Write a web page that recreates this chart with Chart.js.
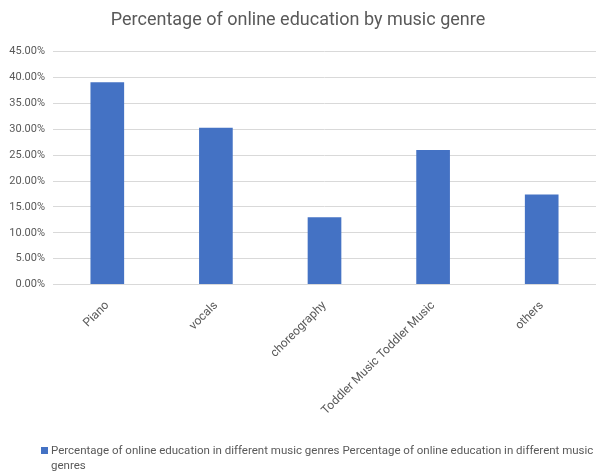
<!DOCTYPE html>
<html>
<head>
<meta charset="utf-8">
<script src="https://cdn.jsdelivr.net/npm/chart.js@4/dist/chart.umd.min.js"></script>
<style>
  html, body { margin: 0; padding: 0; background: #fff; }
  #wrap { width: 596px; height: 472px; position: relative; }
</style>
</head>
<body>
<div id="wrap"><canvas id="chart"></canvas></div>
<script>
// Chart data
const genres = ["Piano", "vocals", "choreography", "Toddler Music Toddler Music", "others"];
const shares = [39.1, 30.3, 13.0, 26.0, 17.4];
const seriesName = "Percentage of online education in different music genres Percentage of online education in different music genres";
const chartTitle = "Percentage of online education by music genre";

const FONT = "Roboto, 'Liberation Sans', sans-serif";
const TEXT = "#595959";
const BLUE = "#4472c4";

// draws the wrapped legend at the bottom, the way the original does
const bottomLegend = {
  id: "bottomLegend",
  afterDraw(chart) {
    const ctx = chart.ctx;
    ctx.save();
    ctx.font = "11.5px " + FONT;
    ctx.fillStyle = BLUE;
    ctx.fillRect(41, 447, 7, 7);
    ctx.fillStyle = TEXT;
    ctx.textBaseline = "middle";
    const maxW = 545;
    const words = seriesName.split(" ");
    let line = "";
    let y = 451;
    words.forEach((w) => {
      const test = line ? line + " " + w : w;
      if (ctx.measureText(test).width > maxW && line) {
        ctx.fillText(line, 51, y);
        line = w;
        y += 15;
      } else {
        line = test;
      }
    });
    ctx.fillText(line, 51, y);
    ctx.restore();
  },
};

new Chart(document.getElementById("chart"), {
  type: "bar",
  data: {
    labels: genres,
    datasets: [
      {
        label: seriesName,
        data: shares,
        backgroundColor: BLUE,
        borderWidth: 0,
        barPercentage: 0.62,
        categoryPercentage: 0.5,
      },
    ],
  },
  options: {
    responsive: true,
    maintainAspectRatio: false,
    animation: false,
    layout: { padding: { left: 0, right: 0, top: 0, bottom: 48 } },
    plugins: {
      legend: { display: false },
      tooltip: { enabled: false },
      title: {
        display: true,
        text: chartTitle,
        color: TEXT,
        font: { family: FONT, size: 18, weight: "normal" },
        padding: { top: 10, bottom: 20 },
      },
    },
    scales: {
      y: {
        min: 0,
        max: 45,
        afterFit: (axis) => { axis.width = 53; },
        ticks: {
          stepSize: 5,
          color: TEXT,
          font: { family: FONT, size: 11 },
          padding: 8,
          callback: (v) => v.toFixed(2) + "%",
        },
        grid: { color: "#d9d9d9", drawTicks: false },
        border: { display: false },
      },
      x: {
        ticks: {
          color: TEXT,
          font: { family: FONT, size: 12 },
          minRotation: 45,
          maxRotation: 45,
          padding: 6,
        },
        grid: { display: false },
        border: { color: "#d9d9d9" },
      },
    },
  },
  plugins: [bottomLegend],
});
</script>
</body>
</html>
